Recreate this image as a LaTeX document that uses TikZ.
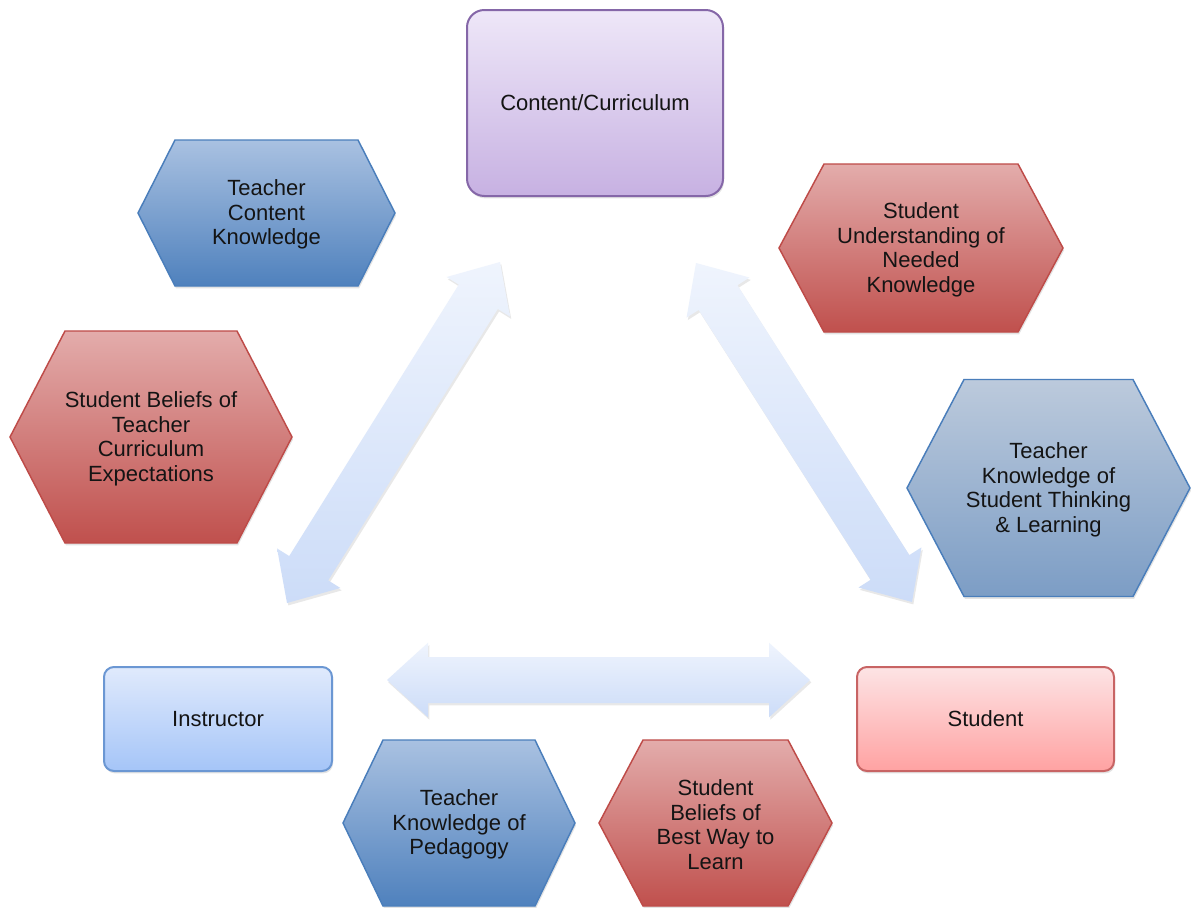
\documentclass[tikz,border=0pt]{standalone}
\usepackage{fontspec}
\setmainfont{Liberation Sans}
\usetikzlibrary{calc,shadows}
\definecolor{hbtop}{HTML}{A9C1E1}
\definecolor{hbbot}{HTML}{4F81BD}
\definecolor{hbline}{HTML}{4A7EBB}
\definecolor{hrtop}{HTML}{E3ACAB}
\definecolor{hrbot}{HTML}{C0504D}
\definecolor{hrline}{HTML}{BE4B48}
\definecolor{hgtop}{HTML}{BCCADC}
\definecolor{hgbot}{HTML}{7C9DC5}
\definecolor{cctop}{HTML}{EEE7F8}
\definecolor{ccbot}{HTML}{C7B1E2}
\definecolor{ccline}{HTML}{8567A8}
\definecolor{intop}{HTML}{E0EAFC}
\definecolor{inbot}{HTML}{A5C5F8}
\definecolor{inline}{HTML}{6B97D3}
\definecolor{sttop}{HTML}{FDE4E5}
\definecolor{stbot}{HTML}{FFA2A2}
\definecolor{stline}{HTML}{C86464}
\definecolor{artop}{HTML}{EFF4FD}
\definecolor{arbot}{HTML}{CCDCF8}
\tikzset{
  txt/.style={align=center, font=\fontsize{16.5}{18.4}\selectfont, text=black!92, inner sep=0pt},
  shadowed/.style={drop shadow={opacity=0.22, shadow xshift=0.8pt, shadow yshift=-1.8pt}},
  bluehex/.style={draw=hbline, line width=1.1pt, top color=hbtop, bottom color=hbbot, shadowed},
  redhex/.style={draw=hrline, line width=1.1pt, top color=hrtop, bottom color=hrbot, shadowed},
  grayhex/.style={draw=hbline, line width=1.1pt, top color=hgtop, bottom color=hgbot, shadowed},
  mainbox/.style={txt, rectangle, line width=1.5pt, shadowed},
  arrowfill/.style={top color=artop, bottom color=arbot, draw=none,
    drop shadow={opacity=0.18, shadow xshift=1pt, shadow yshift=-1.8pt}},
}
% #1 name, #2 cx, #3 cy, #4 half width, #5 half height, #6 point depth, #7 style, #8 text
\newcommand\hexbox[8]{%
  \path[#7] (#2-#4,#3) -- (#2-#4+#6,#3-#5) -- (#2+#4-#6,#3-#5) -- (#2+#4,#3)
     -- (#2+#4-#6,#3+#5) -- (#2-#4+#6,#3+#5) -- cycle;
  \node[txt, yshift=-1.3pt] (#1) at (#2,#3) {#8};}
% block double arrow between two named tips
\newcommand\dblarrow[2]{%
  \coordinate (hA) at ($(#1)!30.75pt!(#2)$);
  \coordinate (hB) at ($(#2)!30.75pt!(#1)$);
  \path[arrowfill] (#1) -- ($(hA)!28pt!90:(#2)$) -- ($(hA)!17.25pt!90:(#2)$)
     -- ($(hB)!17.25pt!-90:(#1)$) -- ($(hB)!28pt!-90:(#1)$) -- (#2)
     -- ($(hB)!28pt!90:(#1)$) -- ($(hB)!17.25pt!90:(#1)$)
     -- ($(hA)!17.25pt!-90:(#2)$) -- ($(hA)!28pt!-90:(#2)$) -- cycle;}
\begin{document}
\begin{tikzpicture}[x=0.75pt,y=-0.75pt]
\useasboundingbox[fill=white] (0,0) rectangle (1191,907);

% block arrows
\coordinate (l1) at (500,262);
\coordinate (l2) at (287,603);
\coordinate (r1) at (696,263);
\coordinate (r2) at (912,602);
\coordinate (b1) at (387,680);
\coordinate (b2) at (810,680);
\dblarrow{l1}{l2}
\dblarrow{r1}{r2}
\dblarrow{b1}{b2}

% main boxes
\node[mainbox, draw=ccline, top color=cctop, bottom color=ccbot, rounded corners=13pt,
      minimum width=192pt, minimum height=139.5pt] (content) at (595,103) {Content/Curriculum};
\node[mainbox, draw=inline, top color=intop, bottom color=inbot, rounded corners=7.5pt,
      minimum width=171pt, minimum height=78pt] (instructor) at (218,719) {Instructor};
\node[mainbox, draw=stline, top color=sttop, bottom color=stbot, rounded corners=7.5pt,
      minimum width=192.75pt, minimum height=78pt] (student) at (985.5,719) {Student};

% hexagons
\hexbox{tck}{266.5}{213}{128.5}{73}{37}{bluehex}{Teacher\\Content\\Knowledge}
\hexbox{sbt}{151}{437}{141}{106}{55}{redhex}{Student Beliefs of\\Teacher\\Curriculum\\Expectations}
\hexbox{sun}{921}{248}{142}{84}{45}{redhex}{Student\\Understanding of\\Needed\\Knowledge}
\hexbox{tks}{1048.5}{488}{141.5}{108.5}{57}{grayhex}{Teacher\\Knowledge of\\Student Thinking\\\& Learning}
\hexbox{tkp}{459}{823}{116}{83}{40}{bluehex}{Teacher\\Knowledge of\\Pedagogy}
\hexbox{sbw}{715.5}{823}{116.5}{83}{44}{redhex}{Student\\Beliefs of\\Best Way to\\Learn}
\end{tikzpicture}
\end{document}
